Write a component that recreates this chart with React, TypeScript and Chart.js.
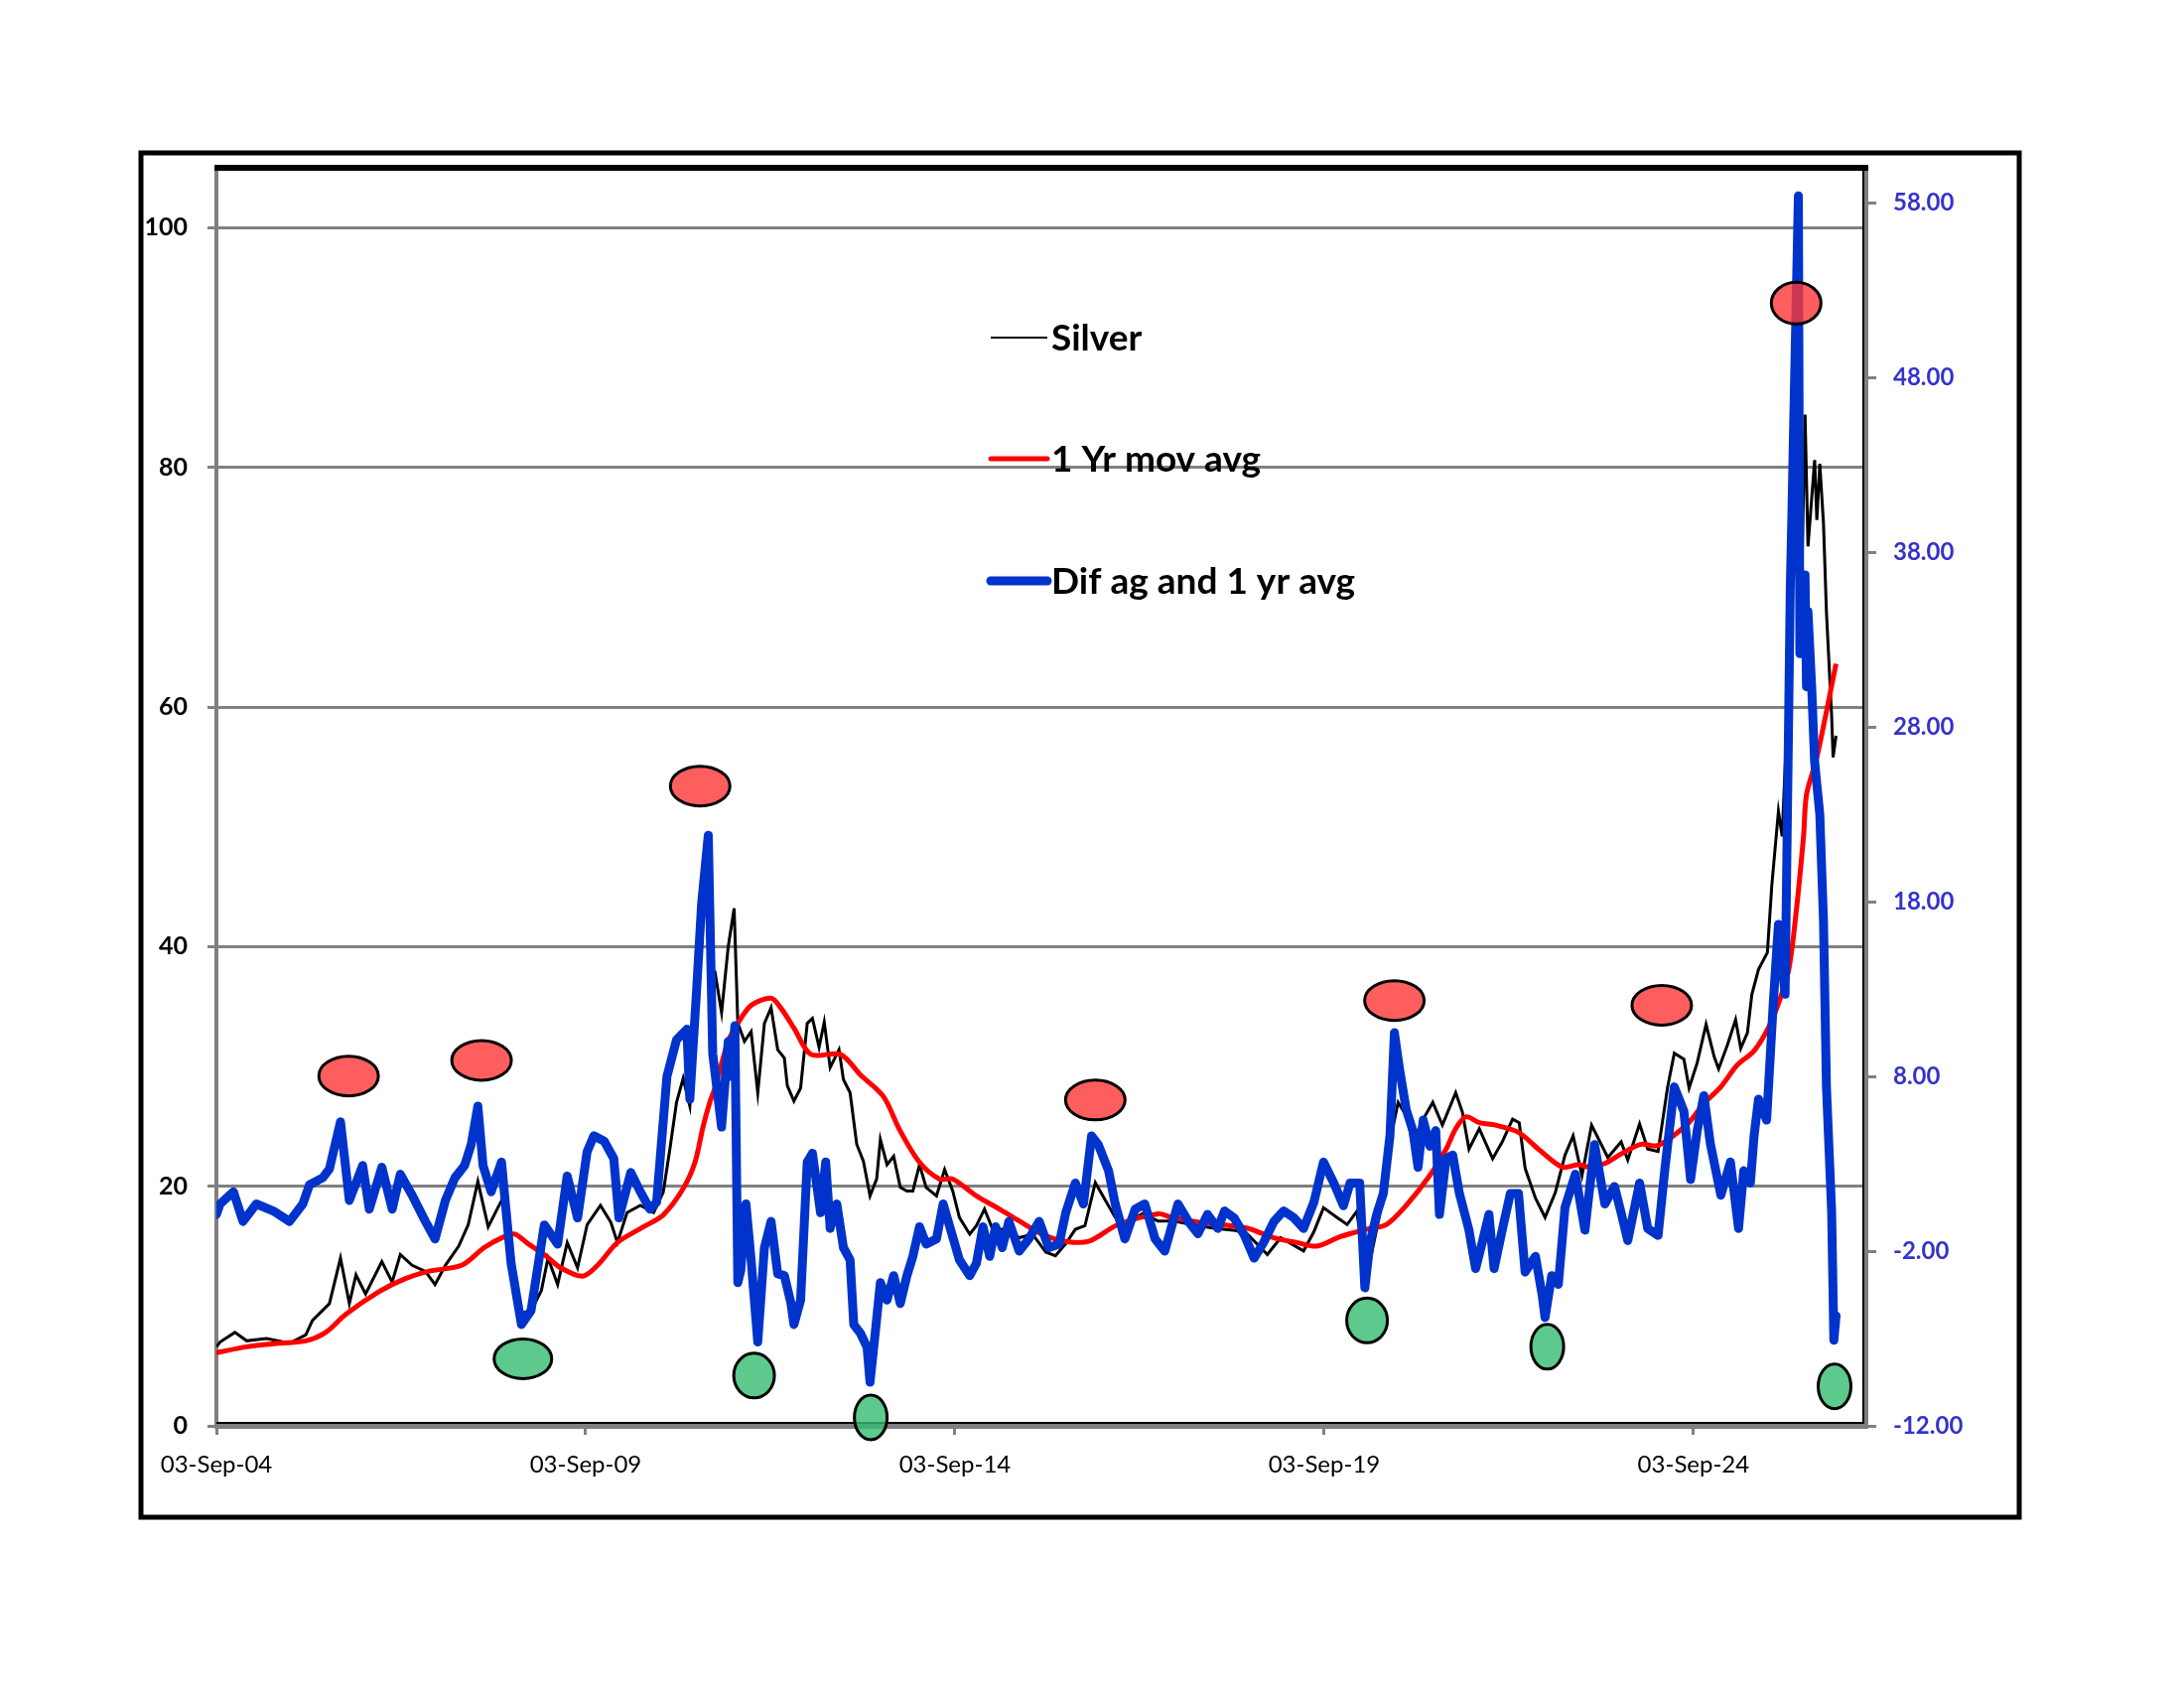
import React, { useEffect, useRef } from "react";
import { Chart, registerables } from "chart.js";

Chart.register(...registerables);

// x values are years since 03-Sep-2004
const X_MAX = 22.34;
const xTickYears = [0, 5, 10, 15, 20];
const xTickLabels = ["03-Sep-04", "03-Sep-09", "03-Sep-14", "03-Sep-19", "03-Sep-24"];
const leftTicks = [0, 20, 40, 60, 80, 100];
const rightTicks = [-12, -2, 8, 18, 28, 38, 48, 58];

const silverT = [
  0.0, 0.05, 0.25, 0.41, 0.68, 0.99, 1.21, 1.3, 1.53, 1.68, 1.8, 1.89, 2.02, 2.24, 2.38, 2.49, 2.65, 2.83, 2.96, 3.1,
  3.28, 3.41, 3.54, 3.68, 3.81, 3.88, 3.99, 4.13, 4.26, 4.4, 4.49, 4.62, 4.75, 4.89, 5.02, 5.2, 5.34, 5.43, 5.56, 5.74,
  5.92, 6.05, 6.14, 6.23, 6.32, 6.41, 6.5, 6.57, 6.66, 6.72, 6.75, 6.84, 6.93, 7.01, 7.06, 7.15, 7.24, 7.33, 7.42, 7.51,
  7.6, 7.69, 7.73, 7.82, 7.91, 8.0, 8.07, 8.16, 8.23, 8.31, 8.43, 8.49, 8.58, 8.67, 8.76, 8.85, 8.94, 8.99, 9.08, 9.17,
  9.26, 9.35, 9.43, 9.52, 9.61, 9.75, 9.86, 9.97, 10.06, 10.2, 10.29, 10.4, 10.51, 10.69, 10.87, 11.05, 11.23, 11.36,
  11.5, 11.63, 11.76, 11.9, 12.03, 12.17, 12.3, 12.53, 12.75, 12.97, 13.2, 13.51, 13.8, 13.96, 14.23, 14.41, 14.72,
  14.86, 14.99, 15.17, 15.31, 15.44, 15.57, 15.75, 15.89, 16.0, 16.11, 16.2, 16.34, 16.47, 16.6, 16.78, 16.87, 16.96,
  17.1, 17.28, 17.41, 17.55, 17.64, 17.72, 17.86, 17.99, 18.13, 18.26, 18.37, 18.49, 18.62, 18.84, 19.02, 19.11, 19.27,
  19.38, 19.52, 19.65, 19.74, 19.87, 19.94, 20.05, 20.17, 20.28, 20.34, 20.46, 20.57, 20.64, 20.73, 20.79, 20.88, 21.0,
  21.06, 21.15, 21.2, 21.29, 21.35, 21.42, 21.47, 21.51, 21.55, 21.64, 21.67, 21.71, 21.76, 21.8, 21.87, 21.89, 21.93,
];
const silverV = [
  6.6, 7.0, 7.8, 7.1, 7.3, 6.9, 7.6, 8.8, 10.2, 14.0, 10.2, 12.6, 11.0, 13.7, 12.0, 14.3, 13.4, 12.9, 11.8, 13.4,
  15.0, 16.8, 20.4, 16.6, 18.2, 19.0, 13.3, 9.4, 9.6, 11.3, 14.0, 11.8, 15.3, 13.2, 16.8, 18.4, 17.0, 15.3, 17.8, 18.4,
  17.8, 19.5, 23.1, 27.0, 29.0, 26.7, 35.0, 43.0, 48.5, 38.0, 37.9, 34.5, 40.0, 43.2, 33.6, 32.1, 32.9, 27.8, 33.6, 34.9,
  31.4, 30.7, 28.4, 27.1, 28.2, 33.6, 34.0, 31.6, 33.7, 29.9, 31.4, 28.9, 27.8, 23.5, 22.1, 19.2, 20.6, 23.9, 21.8, 22.5,
  19.9, 19.6, 19.6, 21.8, 19.9, 19.2, 21.4, 19.6, 17.4, 16.0, 16.7, 18.1, 16.4, 16.4, 15.7, 16.0, 14.5, 14.2,
  15.2, 16.4, 16.7, 20.3, 18.9, 17.4, 16.7, 17.7, 17.1, 17.1, 16.8, 16.5, 16.3, 16.0, 14.3, 15.7, 14.6,
  16.2, 18.2, 17.4, 16.8, 17.9, 12.3, 17.6, 23.7, 27.0, 25.9, 23.7, 25.6, 27.0, 25.1, 27.8, 26.2, 23.1,
  24.8, 22.3, 23.7, 25.6, 25.3, 21.5, 19.0, 17.4, 19.5, 22.6, 24.2, 20.9, 25.1, 22.4, 23.7, 22.2, 25.2,
  23.1, 22.9, 28.3, 31.1, 30.6, 28.2, 30.3, 33.5, 30.8, 29.8, 31.8, 33.9, 31.5, 32.8, 36.0, 38.1, 39.5,
  45.1, 51.3, 49.2, 62.0, 75.0, 80.0, 72.0, 84.4, 73.4, 80.6, 75.6, 80.3, 75.3, 67.9, 59.3, 55.8, 57.6,
];

const avgT = [
  0.0, 0.41, 0.86, 1.21, 1.48, 1.75, 2.2, 2.56, 2.87, 3.32, 3.63, 3.9, 4.04, 4.22, 4.44, 4.66, 4.96, 5.16, 5.43, 5.78,
  6.05, 6.32, 6.48, 6.59, 6.68, 6.75, 6.93, 7.06, 7.24, 7.51, 7.64, 7.82, 8.05, 8.45, 8.72, 9.03, 9.26, 9.52, 9.79, 9.97,
  10.29, 10.6, 10.87, 11.18, 11.5, 11.81, 12.21, 12.75, 12.93, 13.3, 13.74, 13.96, 14.32, 14.63, 14.9, 15.22, 15.57,
  15.84, 16.11, 16.43, 16.65, 16.78, 16.92, 17.1, 17.32, 17.63, 17.9, 18.22, 18.44, 18.58, 18.8, 19.02, 19.29, 19.52,
  19.92, 20.14, 20.37, 20.59, 20.82, 21.02, 21.17, 21.29, 21.38, 21.49, 21.53, 21.67, 21.93,
];
const avgV = [
  6.1, 6.6, 6.9, 7.1, 7.8, 9.3, 11.2, 12.3, 12.9, 13.4, 14.9, 15.8, 16.0, 15.2, 14.3, 13.2, 12.5, 13.4, 15.3, 16.6,
  17.6, 19.8, 22.0, 25.0, 27.0, 28.2, 32.1, 33.6, 35.1, 35.7, 34.9, 33.2, 31.0, 31.0, 29.3, 27.5, 24.6, 22.0, 20.6, 20.6,
  19.2, 18.1, 17.1, 16.0, 15.4, 15.4, 16.8, 17.7, 17.4, 17.0, 16.7, 16.5, 15.7, 15.3, 15.0, 15.8, 16.4,
  16.8, 18.4, 20.9, 23.1, 24.8, 25.8, 25.3, 25.1, 24.5, 23.1, 21.6, 21.8, 21.6, 21.9, 22.7, 23.5, 23.4,
  25.2, 26.9, 28.3, 30.1, 31.3, 33.3, 35.6, 38.1, 42.3, 49.2, 52.7, 55.8, 63.6,
];

const difT = [
  0.0, 0.05, 0.23, 0.36, 0.54, 0.77, 0.99, 1.17, 1.26, 1.44, 1.53, 1.68, 1.8, 1.98, 2.07, 2.24, 2.38, 2.49, 2.65, 2.83,
  2.96, 3.1, 3.23, 3.36, 3.45, 3.54, 3.61, 3.72, 3.86, 3.92, 3.99, 4.13, 4.26, 4.44, 4.62, 4.75, 4.89, 5.02, 5.11, 5.25,
  5.38, 5.45, 5.61, 5.74, 5.87, 5.96, 6.1, 6.23, 6.37, 6.41, 6.5, 6.57, 6.66, 6.72, 6.84, 6.93, 6.97, 7.02, 7.06, 7.1,
  7.17, 7.24, 7.33, 7.42, 7.51, 7.6, 7.69, 7.78, 7.82, 7.91, 8.0, 8.07, 8.18, 8.25, 8.31, 8.4, 8.49, 8.58, 8.63, 8.72,
  8.81, 8.85, 8.92, 8.99, 9.08, 9.17, 9.26, 9.35, 9.43, 9.52, 9.61, 9.75, 9.84, 9.93, 10.06, 10.2, 10.29, 10.38, 10.47,
  10.55, 10.64, 10.73, 10.87, 11.0, 11.14, 11.27, 11.41, 11.5, 11.63, 11.74, 11.85, 11.94, 12.08, 12.17, 12.3, 12.44,
  12.57, 12.71, 12.84, 13.02, 13.16, 13.29, 13.42, 13.56, 13.65, 13.78, 13.92, 14.05, 14.18, 14.32, 14.45, 14.59, 14.72,
  14.86, 14.99, 15.13, 15.26, 15.35, 15.48, 15.55, 15.62, 15.71, 15.8, 15.89, 15.95, 16.02, 16.11, 16.2, 16.27, 16.34,
  16.43, 16.51, 16.56, 16.65, 16.74, 16.83, 16.96, 17.05, 17.14, 17.23, 17.3, 17.41, 17.52, 17.63, 17.72, 17.86, 17.95,
  17.99, 18.08, 18.17, 18.26, 18.4, 18.53, 18.66, 18.8, 18.93, 19.02, 19.11, 19.27, 19.38, 19.52, 19.61, 19.74, 19.87,
  19.96, 20.05, 20.14, 20.23, 20.37, 20.5, 20.61, 20.68, 20.77, 20.82, 20.88, 20.99, 21.08, 21.15, 21.24, 21.29, 21.31,
  21.33, 21.35, 21.42, 21.44, 21.51, 21.53, 21.55, 21.6, 21.64, 21.71, 21.76, 21.8, 21.87, 21.89, 21.9, 21.93,
];
const difV = [
  0.1, 0.7, 1.4, -0.3, 0.7, 0.3, -0.3, 0.7, 1.8, 2.2, 2.7, 5.4, 0.9, 2.9, 0.4, 2.8, 0.4, 2.4, 1.2, -0.3,
  -1.3, 0.9, 2.2, 2.9, 4.1, 6.3, 2.9, 1.4, 3.1, 0.4, -2.7, -6.2, -5.4, -0.5, -1.6, 2.3, -0.1, 3.7, 4.6, 4.3,
  3.3, -0.1, 2.5, 1.4, 0.4, 0.8, 8.0, 10.1, 10.7, 6.7, 12.8, 17.9, 21.8, 9.3, 5.1, 10.0, 8.0, 10.9, -3.8, -3.1,
  0.7, -2.5, -7.2, -1.8, -0.3, -3.3, -3.4, -5.0, -6.2, -4.8, 3.1, 3.6, 0.2, 3.1, -0.7, 0.7, -1.8, -2.5, -6.2, -6.7,
  -7.5, -9.5, -6.7, -3.8, -4.8, -3.4, -5.0, -3.4, -2.3, -0.6, -1.6, -1.3, 0.7, -0.6, -2.5, -3.4, -2.7, -0.6, -2.3,
  -0.6, -1.8, -0.3, -2.0, -1.3, -0.3, -1.8, -1.6, 0.2, 1.9, 0.7, 4.6, 4.1, 2.6, 0.7, -1.3, 0.4,
  0.7, -1.3, -2.0, 0.7, -0.3, -1.0, 0.1, -0.7, 0.3, -0.1, -1.1, -2.4, -1.5, -0.3, 0.3, -0.1, -0.7,
  0.8, 3.1, 1.9, 0.6, 1.9, 1.9, -4.1, -1.5, 0.1, 1.3, 4.6, 10.5, 8.4, 6.1, 4.9, 2.8, 5.5,
  4.0, 4.9, 0.1, 3.3, 3.5, 1.3, -0.8, -3.0, -1.5, 0.1, -3.0, -0.8, 1.3, 1.3, -3.2, -2.3, -4.5,
  -5.8, -3.4, -3.9, 0.5, 2.4, -0.8, 4.1, 0.7, 1.7, 0.2, -1.4, 1.9, -0.7, -1.1, 2.6, 7.4, 6.0,
  2.1, 4.9, 6.9, 4.1, 1.2, 3.1, -0.7, 2.6, 1.9, 4.6, 6.7, 5.5, 12.2, 16.7, 12.7, 29.1, 35.9,
  39.7, 44.0, 58.4, 32.2, 36.7, 30.3, 34.6, 30.3, 26.0, 23.0, 16.9, 7.4, 0.3, -4.5, -7.1, -5.7,
];

// Oval markers: position in years / left-axis value, and marker kind
const markerT = [1.79, 3.59, 6.55, 11.9, 15.95, 19.57, 21.39, 4.15, 7.28, 8.86, 15.58, 18.02, 21.91];
const markerV = [29.2, 30.5, 53.4, 27.2, 35.5, 35.1, 93.7, 5.6, 4.2, 0.7, 8.8, 6.6, 3.3];
const markerKind = ["peak", "peak", "peak", "peak", "peak", "peak", "peakSmall", "troughWide", "troughRound", "troughTall", "troughRound", "troughTall", "troughTall"];

const MARKER_STYLE: Record<string, { w: number; h: number; fill: string }> = {
  peak: { w: 60, h: 40, fill: "rgba(255,54,54,0.8)" },
  peakSmall: { w: 50, h: 42, fill: "rgba(255,54,54,0.8)" },
  troughWide: { w: 58, h: 40, fill: "rgba(52,187,111,0.8)" },
  troughRound: { w: 41, h: 45, fill: "rgba(52,187,111,0.8)" },
  troughTall: { w: 33, h: 45, fill: "rgba(52,187,111,0.8)" },
};

const legendLabels = ["Silver", "1 Yr mov avg", "Dif ag and 1 yr avg"];
const BLUE = "#0033CC";
const FONT = "Lato, 'DejaVu Sans', sans-serif";

const toPoints = (t: number[], v: number[]) => t.map((x, i) => ({ x, y: v[i] }));

export default function App() {
  const ref = useRef<HTMLCanvasElement>(null);

  useEffect(() => {
    const canvas = ref.current;
    if (!canvas) return;

    const framePlugin = {
      id: "frame",
      beforeDatasetsDraw(chart: any) {
        const { ctx, chartArea } = chart;
        const { left, right, top, bottom } = chartArea;
        ctx.save();
        ctx.strokeStyle = "#000";
        ctx.lineWidth = 6;
        ctx.beginPath();
        ctx.moveTo(left - 2, top);
        ctx.lineTo(right + 2, top);
        ctx.stroke();
        ctx.lineWidth = 2;
        ctx.beginPath();
        ctx.moveTo(left, bottom - 3);
        ctx.lineTo(right - 3, bottom - 3);
        ctx.lineTo(right - 3, top);
        ctx.stroke();
        ctx.restore();
      },
      afterDraw(chart: any) {
        const ctx = chart.ctx;
        ctx.save();
        ctx.strokeStyle = "#000";
        ctx.lineWidth = 5;
        ctx.strokeRect(142, 154, 1892, 1374);
        ctx.restore();
      },
    };

    const markerPlugin = {
      id: "markers",
      afterDatasetsDraw(chart: any) {
        const { ctx } = chart;
        const xs = chart.scales.x;
        const ys = chart.scales.y;
        ctx.save();
        markerT.forEach((t, i) => {
          const st = MARKER_STYLE[markerKind[i]];
          const cx = xs.getPixelForValue(t);
          const cy = ys.getPixelForValue(markerV[i]);
          ctx.beginPath();
          ctx.ellipse(cx, cy, st.w / 2, st.h / 2, 0, 0, Math.PI * 2);
          ctx.fillStyle = st.fill;
          ctx.fill();
          ctx.lineWidth = 3;
          ctx.strokeStyle = "#000";
          ctx.stroke();
        });
        ctx.restore();
      },
    };

    const legendPlugin = {
      id: "customLegend",
      afterDatasetsDraw(chart: any) {
        const { ctx, chartArea } = chart;
        const x0 = chartArea.left + 780;
        const x1 = chartArea.left + 837;
        const rows = [171, 293, 416];
        const colors = ["#000", "#FF0000", BLUE];
        const widths = [2, 5, 9];
        ctx.save();
        rows.forEach((dy, i) => {
          const y = chartArea.top + dy;
          ctx.beginPath();
          ctx.lineCap = i === 0 ? "butt" : "round";
          ctx.strokeStyle = colors[i];
          ctx.lineWidth = widths[i];
          ctx.moveTo(x0, y);
          ctx.lineTo(x1, y);
          ctx.stroke();
          ctx.fillStyle = "#000";
          ctx.font = `bold 37px ${FONT}`;
          ctx.textBaseline = "middle";
          ctx.textAlign = "left";
          ctx.fillText(legendLabels[i], x1 + 4, y + 1);
        });
        ctx.restore();
      },
    };

    const chart = new Chart(canvas, {
      type: "line",
      data: {
        datasets: [
          {
            label: legendLabels[2],
            data: toPoints(difT, difV),
            yAxisID: "y1",
            borderColor: BLUE,
            borderWidth: 9,
            pointRadius: 0,
            tension: 0,
            borderJoinStyle: "round",
            borderCapStyle: "round",
            order: 0,
          },
          {
            label: legendLabels[1],
            data: toPoints(avgT, avgV),
            yAxisID: "y",
            borderColor: "#FF0000",
            borderWidth: 5,
            pointRadius: 0,
            tension: 0.3,
            borderJoinStyle: "round",
            order: 1,
          },
          {
            label: legendLabels[0],
            data: toPoints(silverT, silverV),
            yAxisID: "y",
            borderColor: "#000000",
            borderWidth: 3,
            pointRadius: 0,
            tension: 0,
            order: 2,
          },
        ],
      },
      options: {
        animation: false,
        responsive: false,
        devicePixelRatio: 1,
        layout: { padding: { top: 169, left: 0, right: 0, bottom: 0 } },
        plugins: { legend: { display: false }, tooltip: { enabled: false } },
        scales: {
          x: {
            type: "linear",
            min: 0,
            max: X_MAX,
            afterBuildTicks: (s: any) => {
              s.ticks = xTickYears.map((v) => ({ value: v }));
            },
            afterFit: (s: any) => {
              s.height = 264;
            },
            ticks: {
              callback: (_v: any, i: number) => xTickLabels[i],
              font: { family: FONT, size: 24 },
              color: "#000",
              padding: 16,
              maxRotation: 0,
              autoSkip: false,
            },
            grid: { drawOnChartArea: false, tickLength: 9, color: "#808080", lineWidth: 3 },
            border: { color: "#808080", width: 5 },
          },
          y: {
            position: "left",
            min: 0,
            max: 105,
            afterBuildTicks: (s: any) => {
              s.ticks = leftTicks.map((v) => ({ value: v }));
            },
            afterFit: (s: any) => {
              s.width = 218;
            },
            ticks: {
              font: { family: FONT, size: 25, weight: "bold" },
              color: "#000",
              padding: 20,
            },
            grid: { color: "#808080", lineWidth: 3, tickLength: 9 },
            border: { color: "#808080", width: 4 },
          },
          y1: {
            position: "right",
            min: -12,
            max: 60,
            afterBuildTicks: (s: any) => {
              s.ticks = rightTicks.map((v) => ({ value: v }));
            },
            afterFit: (s: any) => {
              s.width = 320;
            },
            ticks: {
              callback: (v: any) => Number(v).toFixed(2),
              font: { family: FONT, size: 24, weight: "bold" },
              color: "#3333CC",
              padding: 17,
            },
            grid: { drawOnChartArea: false, tickLength: 10, color: "#808080", lineWidth: 3 },
            border: { color: "#808080", width: 4 },
          },
        },
      },
      plugins: [framePlugin, legendPlugin, markerPlugin],
    } as any);

    return () => chart.destroy();
  }, []);

  return (
    <div style={{ position: "absolute", left: 0, top: 0, width: 2200, height: 1700, background: "#fff" }}>
      <canvas ref={ref} width={2200} height={1700} style={{ width: 2200, height: 1700, display: "block" }} />
    </div>
  );
}
